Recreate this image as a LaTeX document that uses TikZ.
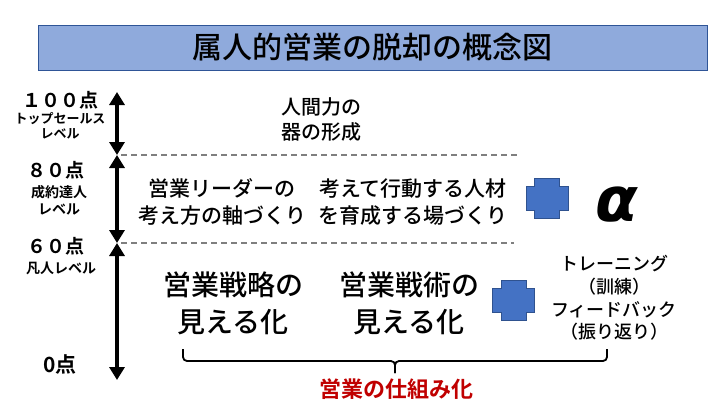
\documentclass[tikz,border=0pt]{standalone}
\usepackage{fontspec}
\setmainfont{Noto Sans CJK JP}[UprightFont=* Medium,BoldFont=* Bold]
\newfontfamily\alphafont{DejaVu Sans}
\usetikzlibrary{arrows.meta}
\definecolor{titlefill}{HTML}{8FAADC}
\definecolor{titleline}{HTML}{2F5597}
\definecolor{plusblue}{HTML}{4472C4}
\definecolor{plusline}{HTML}{2F528F}
\definecolor{keyred}{HTML}{C00000}
\definecolor{guidegray}{HTML}{7F7F7F}
\tikzset{
  lvarrow/.style={line width=3.8pt,{Triangle[width=15pt,length=13pt]}-{Triangle[width=15pt,length=13pt]}},
  guide/.style={guidegray,line width=1.5pt,dash pattern=on 6pt off 4pt},
  lvlabel/.style={font=\bfseries\fontsize{19}{22}\selectfont,inner sep=0pt},
  lvsub/.style={font=\bfseries\fontsize{13}{14.5}\selectfont,inner sep=0pt,align=center},
  body/.style={font=\fontsize{21}{27}\selectfont,inner sep=0pt,align=center},
  bigbody/.style={font=\fontsize{28}{37}\selectfont,inner sep=0pt,align=center},
  bracket/.style={line width=1.8pt,rounded corners=4pt},
  pics/plusmark/.style={code={
    \draw[plusline,fill=plusblue,line width=0.6pt]
      (-21,-12) -- (-12.5,-12) -- (-12.5,-20) -- (12.5,-20) -- (12.5,-12) -- (21,-12)
      -- (21,12) -- (12.5,12) -- (12.5,20) -- (-12.5,20) -- (-12.5,12) -- (-21,12) -- cycle;
  }}
}
\begin{document}
\begin{tikzpicture}[x=1pt,y=-1pt]
  \useasboundingbox (0,0) rectangle (720,405);
  % title
  \node[draw=titleline,fill=titlefill,line width=1pt,minimum width=669pt,minimum height=45pt,
        font=\fontsize{30}{34}\selectfont] (title) at (372.5,47.5) {属人的営業の脱却の概念図};
  % levels
  \coordinate (p100) at (117,92);
  \coordinate (p80) at (117,155);
  \coordinate (p60) at (117,243);
  \coordinate (p0) at (117,380);
  \draw[lvarrow] (p100) -- (p80);
  \draw[lvarrow] (p80) -- (p60);
  \draw[lvarrow] (p60) -- (p0);
  \coordinate (g80a) at (121,155);
  \coordinate (g80b) at (517,155);
  \coordinate (g60a) at (121,243);
  \coordinate (g60b) at (514,243);
  \draw[guide] (g80a) -- (g80b);
  \draw[guide] (g60a) -- (g60b);
  \node[lvlabel] (n100) at (60,100) {１００点};
  \node[lvsub] (n100s) at (60,126) {トップセールス\\レベル};
  \node[lvlabel] (n80) at (56,170) {８０点};
  \node[lvsub,font=\bfseries\fontsize{14}{17}\selectfont] (n80s) at (59,200) {成約達人\\レベル};
  \node[lvlabel] (n60) at (56,246) {６０点};
  \node[lvsub,font=\bfseries\fontsize{14}{17}\selectfont] (n60s) at (61,268) {凡人レベル};
  \node[lvlabel,font=\bfseries\fontsize{21}{24}\selectfont] (n0) at (60,364) {0点};
  % top band
  \node[body,font=\fontsize{20}{25}\selectfont] (human) at (321,120) {人間力の\\器の形成};
  % middle band
  \node[body] (leader) at (222,202) {営業リーダーの\\考え方の軸づくり};
  \node[body] (field) at (413,202) {考えて行動する人材\\を育成する場づくり};
  \pic (plusa) at (547,198) {plusmark};
  \node[inner sep=0pt,font=\alphafont\bfseries\itshape\fontsize{62}{62}\selectfont] (alpha) at (617,205) {α};
  % bottom band
  \node[bigbody] (strategy) at (233,303) {営業戦略の\\見える化};
  \node[bigbody] (tactics) at (409,303) {営業戦術の\\見える化};
  \pic (plusb) at (513.5,300) {plusmark};
  \node[body,font=\fontsize{18}{22.7}\selectfont] (train) at (614,298) {トレーニング\\（訓練）\\フィードバック\\（振り返り）};
  % bracket
  \coordinate (brl) at (183,349);
  \coordinate (brr) at (607,349);
  \coordinate (brm) at (395,361);
  \coordinate (brt) at (395,373);
  \draw[bracket] (brl) |- (brm) -- (brt);
  \draw[bracket] (brr) |- (brm) -- (brt);
  \node[inner sep=0pt,text=keyred,font=\bfseries\fontsize{22}{24}\selectfont] (mech) at (396,389) {営業の仕組み化};
\end{tikzpicture}
\end{document}
